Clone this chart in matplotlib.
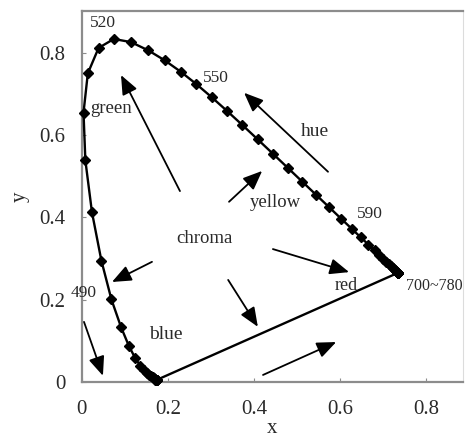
import matplotlib
matplotlib.use("Agg")
import matplotlib.pyplot as plt

plt.rcParams['font.family'] = ['Liberation Serif', 'DejaVu Serif']

# CIE 1931 spectral locus, 380-780 nm in 5 nm steps
wavelength = list(range(380, 785, 5))
locus_x = [0.1741, 0.1740, 0.1738, 0.1736, 0.1733, 0.1730, 0.1726, 0.1721,
           0.1714, 0.1703, 0.1689, 0.1669, 0.1644, 0.1611, 0.1566, 0.1510,
           0.1440, 0.1355, 0.1241, 0.1096, 0.0913, 0.0687, 0.0454, 0.0235,
           0.0082, 0.0039, 0.0139, 0.0389, 0.0743, 0.1142, 0.1547, 0.1929,
           0.2296, 0.2658, 0.3016, 0.3373, 0.3731, 0.4087, 0.4441, 0.4788,
           0.5125, 0.5448, 0.5752, 0.6029, 0.6270, 0.6482, 0.6658, 0.6801,
           0.6915, 0.7006, 0.7079, 0.7140, 0.7190, 0.7230, 0.7260, 0.7283,
           0.7300, 0.7311, 0.7320, 0.7327, 0.7334, 0.7340, 0.7344, 0.7346,
           0.7347] + [0.7347] * 16
locus_y = [0.0050, 0.0050, 0.0049, 0.0049, 0.0048, 0.0048, 0.0048, 0.0048,
           0.0051, 0.0058, 0.0069, 0.0086, 0.0109, 0.0138, 0.0177, 0.0227,
           0.0297, 0.0399, 0.0578, 0.0868, 0.1327, 0.2007, 0.2950, 0.4127,
           0.5384, 0.6548, 0.7502, 0.8120, 0.8338, 0.8262, 0.8059, 0.7816,
           0.7543, 0.7243, 0.6923, 0.6589, 0.6245, 0.5896, 0.5547, 0.5202,
           0.4866, 0.4544, 0.4242, 0.3965, 0.3725, 0.3514, 0.3340, 0.3197,
           0.3083, 0.2993, 0.2920, 0.2859, 0.2809, 0.2770, 0.2740, 0.2717,
           0.2700, 0.2689, 0.2680, 0.2673, 0.2666, 0.2660, 0.2656, 0.2654,
           0.2653] + [0.2653] * 16

# annotation texts (text, x, y, fontsize)
labels = [
    ("520", 0.050, 0.863, 12.5),
    ("550", 0.312, 0.730, 12.5),
    ("green", 0.067, 0.653, 13.5),
    ("hue", 0.542, 0.598, 14),
    ("yellow", 0.450, 0.425, 13.5),
    ("590", 0.669, 0.399, 12.5),
    ("chroma", 0.284, 0.338, 13.5),
    ("490", 0.005, 0.207, 12.5),
    ("blue", 0.194, 0.105, 14),
    ("red", 0.614, 0.224, 13),
]
end_label = "700~780"
end_label_pos = (0.754, 0.224)

# arrows: (tail, head)
arrows = [
    ((0.228, 0.464), (0.091, 0.746)),
    ((0.572, 0.511), (0.377, 0.703)),
    ((0.342, 0.438), (0.419, 0.513)),
    ((0.163, 0.292), (0.070, 0.243)),
    ((0.005, 0.146), (0.049, 0.015)),
    ((0.340, 0.248), (0.409, 0.134)),
    ((0.444, 0.323), (0.621, 0.267)),
    ((0.421, 0.017), (0.591, 0.097)),
]

fig = plt.figure(figsize=(4.65, 4.37), dpi=100)
ax = fig.add_axes([0.176, 0.126, 0.82, 0.849])

ax.plot(locus_x, locus_y, color='black', lw=1.7, marker='D', ms=4.8,
        clip_on=False, zorder=3)
# line of purples
ax.plot([locus_x[0], locus_x[-1]], [locus_y[0], locus_y[-1]],
        color='black', lw=1.7, zorder=3)

txt_color = '#2a2a2a'
for t, x, y, fs in labels:
    ax.text(x, y, t, ha='center', va='baseline', fontsize=fs, color=txt_color)
ax.text(end_label_pos[0], end_label_pos[1], end_label, ha='left',
        va='baseline', fontsize=11.5, color=txt_color)

for tail, head in arrows:
    ax.annotate('', xy=head, xytext=tail,
                arrowprops=dict(arrowstyle='-|>,head_length=0.65,head_width=0.27',
                                mutation_scale=18, lw=1.3, color='black',
                                shrinkA=0, shrinkB=0))

ax.set_xlim(0, 0.886)
ax.set_ylim(0, 0.902)
ax.set_xticks([0, 0.2, 0.4, 0.6, 0.8])
ax.set_xticklabels(['0', '0.2', '0.4', '0.6', '0.8'])
ax.set_yticks([0, 0.2, 0.4, 0.6, 0.8])
ax.set_yticklabels(['0', '0.2', '0.4', '0.6', '0.8'])

spine_col = '#8c8c8c'
for side in ['left', 'bottom', 'top']:
    ax.spines[side].set_color(spine_col)
    ax.spines[side].set_linewidth(1.6)
ax.spines['right'].set_color('#dcdcdc')
ax.spines['right'].set_linewidth(0.8)

ax.tick_params(direction='in', length=3, width=0.8, color=spine_col,
               labelsize=15, labelcolor=txt_color)
ax.tick_params(axis='x', pad=13)
ax.tick_params(axis='y', pad=12)

ax.set_xlabel('x', fontsize=15, color=txt_color)
ax.set_ylabel('y', fontsize=15, color=txt_color)
ax.xaxis.set_label_coords(0.5, -0.100)
ax.yaxis.set_label_coords(-0.136, 0.5)

fig.savefig('out.png', dpi=100)
